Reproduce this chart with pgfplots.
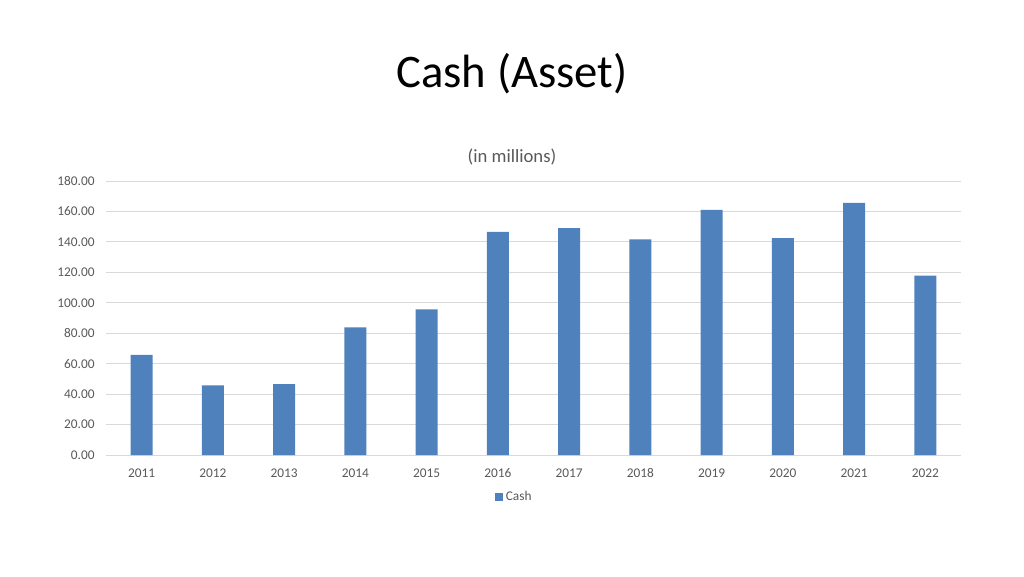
\documentclass[border=0pt]{standalone}
\usepackage{pgfplots}
\pgfplotsset{compat=1.18}
\usepackage{fontspec}
\setmainfont{Carlito}
\definecolor{barblue}{HTML}{4F81BD}
\definecolor{txtgray}{HTML}{595959}
\definecolor{gridgray}{HTML}{D9D9D9}
\begin{document}
\begin{tikzpicture}
\path[use as bounding box] (0pt,0pt) rectangle (768pt,432pt);
\node[font=\fontsize{35}{40}\selectfont, text=black] at (384pt,376.5pt) {Cash (Asset)};
\node[font=\fontsize{14}{16}\selectfont, text=txtgray] at (384pt,314.25pt) {(in millions)};
\begin{axis}[
    at={(79.5pt,90.75pt)}, anchor=south west,
    width=641.25pt, height=205.5pt, scale only axis,
    xmin=-0.5, xmax=11.5, ymin=0, ymax=180,
    ytick={0,20,...,180},
    xtick=data,
    xticklabels={2011,2012,2013,2014,2015,2016,2017,2018,2019,2020,2021,2022},
    yticklabel={\pgfmathprintnumber[fixed,fixed zerofill,precision=2]{\tick}},
    /pgf/number format/assume math mode=true,
    ticklabel style={font=\fontsize{10}{12}\selectfont, text=txtgray},
    yticklabel style={xshift=-5pt},
    xticklabel style={yshift=-6.5pt},
    major tick length=0pt,
    axis line style={draw=none},
    ymajorgrids, grid style={gridgray, line width=0.75pt},
    legend style={at={(0.478,-0.153)}, anchor=center, draw=none,
        font=\fontsize{10}{12}\selectfont, text=txtgray, inner sep=1pt},
    legend image code/.code={\fill[barblue] (0pt,-3pt) rectangle (6pt,3pt);},
]
\addplot[ybar, bar width=16.5pt, fill=barblue, draw=none] coordinates {
    (0, 65.7) (1, 45.8) (2, 46.6) (3, 83.8) (4, 95.7) (5, 146.5)
    (6, 149.0) (7, 141.7) (8, 161.0) (9, 142.4) (10, 165.6) (11, 117.8)
};
\addlegendentry{Cash}
\end{axis}
\end{tikzpicture}
\end{document}
